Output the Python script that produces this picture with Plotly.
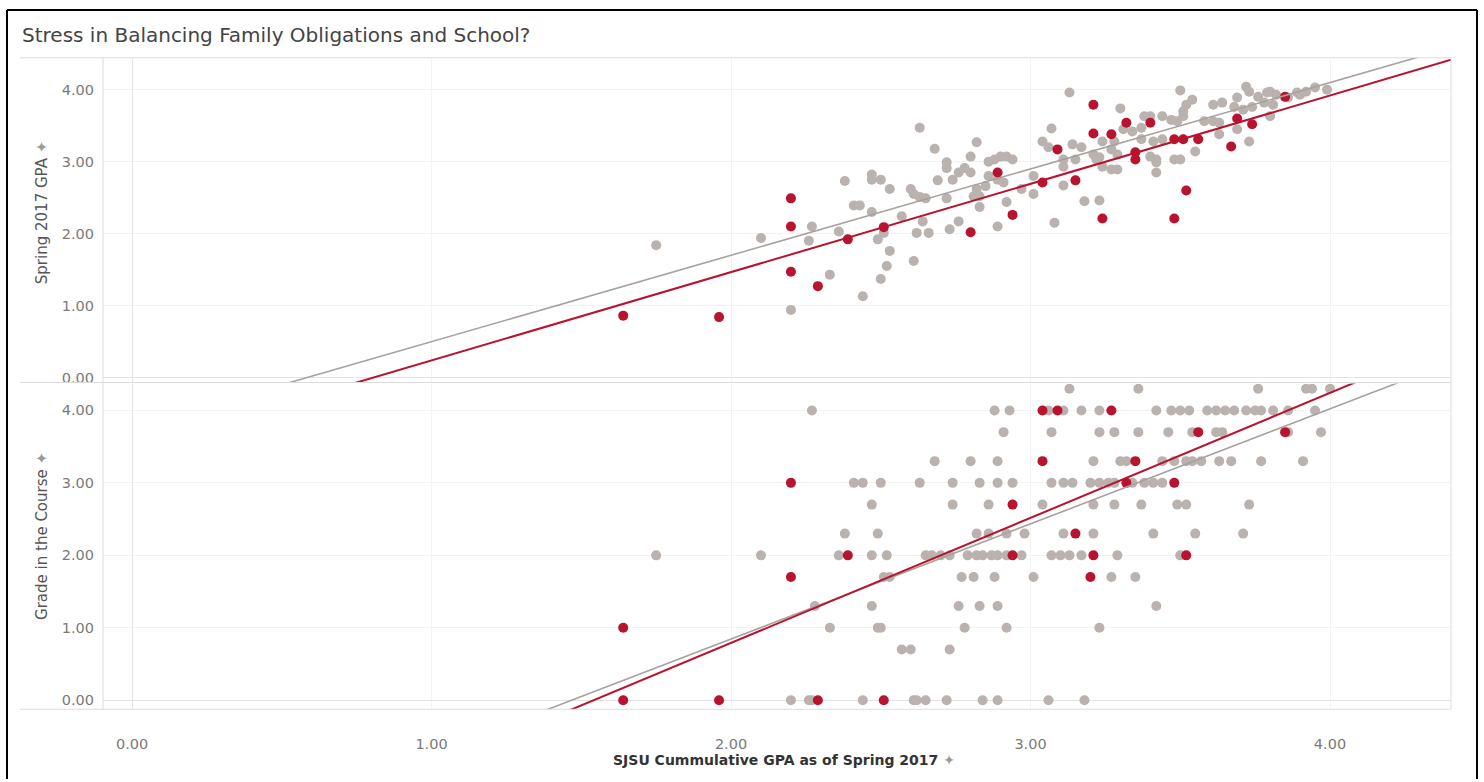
import plotly.graph_objects as go

W, H = 1484, 782

# ---- data -------------------------------------------------------------
# Upper pane: cumulative GPA vs Spring 2017 GPA
top_no = [
    (1.75, 1.84), (2.10, 1.94), (2.20, 0.94), (2.27, 2.10), (2.26, 1.90), (2.33, 1.43),
    (2.36, 2.03), (2.38, 2.73), (2.41, 2.39), (2.43, 2.39), (2.44, 1.13), (2.47, 2.82),
    (2.47, 2.75), (2.50, 2.75), (2.47, 2.30), (2.49, 1.92), (2.51, 2.01), (2.50, 1.37),
    (2.52, 1.55), (2.53, 1.76), (2.53, 2.62), (2.57, 2.24), (2.60, 2.62), (2.61, 2.55),
    (2.63, 2.51), (2.65, 2.49), (2.61, 1.62), (2.62, 2.01), (2.66, 2.01), (2.63, 3.47),
    (2.64, 2.17), (2.68, 3.18), (2.69, 2.74), (2.72, 2.99), (2.72, 2.91), (2.72, 2.49),
    (2.73, 2.06), (2.74, 2.75), (2.76, 2.17), (2.76, 2.85), (2.78, 2.91), (2.80, 2.85),
    (2.80, 3.07), (2.82, 3.27), (2.82, 2.62), (2.83, 2.52), (2.83, 2.37), (2.86, 3.00),
    (2.88, 3.03), (2.90, 3.07), (2.92, 3.07), (2.94, 3.03), (2.86, 2.80), (2.89, 2.75),
    (2.91, 2.71), (2.85, 2.66), (2.81, 2.52), (2.89, 2.10), (2.92, 2.44), (2.97, 2.62),
    (3.01, 2.55), (3.01, 2.80), (3.04, 3.28), (3.06, 3.20), (3.07, 3.46), (3.08, 2.15),
    (3.11, 3.03), (3.11, 2.93), (3.11, 2.67), (3.13, 3.96), (3.14, 3.24), (3.17, 3.20),
    (3.15, 3.03), (3.18, 2.45), (3.21, 3.10), (3.23, 3.06), (3.23, 2.46), (3.30, 3.74),
    (3.38, 3.63), (3.40, 3.63), (3.44, 3.63), (3.31, 3.45), (3.34, 3.42), (3.37, 3.47),
    (3.28, 3.28), (3.24, 3.28), (3.27, 3.17), (3.29, 3.10), (3.37, 3.31), (3.41, 3.28),
    (3.44, 3.31), (3.22, 3.03), (3.24, 2.93), (3.27, 2.89), (3.29, 2.89), (3.40, 3.07),
    (3.42, 2.99), (3.42, 2.85), (3.50, 3.99), (3.54, 3.86), (3.52, 3.79), (3.47, 3.58),
    (3.51, 3.70), (3.51, 3.63), (3.49, 3.56), (3.58, 3.56), (3.61, 3.56), (3.63, 3.54),
    (3.61, 3.79), (3.64, 3.82), (3.69, 3.89), (3.72, 4.04), (3.73, 3.97), (3.76, 3.90),
    (3.80, 3.97), (3.82, 3.93), (3.68, 3.76), (3.71, 3.72), (3.74, 3.76), (3.78, 3.82),
    (3.81, 3.79), (3.89, 3.96), (3.92, 3.97), (3.95, 4.03), (3.99, 4.00), (3.63, 3.38),
    (3.69, 3.45), (3.73, 3.28), (3.55, 3.14), (3.48, 3.03), (3.50, 3.03), (3.42, 3.03),
    (3.80, 3.63), (3.79, 3.96), (3.86, 3.89), (3.90, 3.93),
]
top_yes = [
    (1.64, 0.86), (1.96, 0.84), (2.20, 2.49), (2.20, 2.10), (2.20, 1.47), (2.29, 1.27),
    (2.39, 1.92), (2.51, 2.09), (2.80, 2.02), (2.89, 2.85), (2.94, 2.26), (3.04, 2.71),
    (3.09, 3.17), (3.15, 2.74), (3.21, 3.79), (3.21, 3.39), (3.24, 2.21), (3.27, 3.38),
    (3.32, 3.54), (3.35, 3.13), (3.35, 3.03), (3.40, 3.54), (3.48, 3.31), (3.51, 3.31),
    (3.56, 3.31), (3.48, 2.21), (3.52, 2.60), (3.67, 3.21), (3.69, 3.60), (3.74, 3.52),
    (3.85, 3.90),
]

# Lower pane: cumulative GPA of students at each course grade
bottom_no_by_grade = {
    4.3: [3.13, 3.36, 3.76, 3.92, 3.94, 4.00],
    4.0: [2.27, 2.88, 2.93, 3.06, 3.11, 3.17, 3.23, 3.42, 3.47, 3.50, 3.53, 3.59, 3.62,
          3.65, 3.68, 3.72, 3.75, 3.77, 3.81, 3.86, 3.95],
    3.7: [2.91, 3.07, 3.23, 3.28, 3.36, 3.46, 3.54, 3.62, 3.64, 3.86, 3.97],
    3.3: [2.68, 2.80, 2.89, 3.21, 3.30, 3.32, 3.44, 3.48, 3.52, 3.54, 3.57, 3.63, 3.67,
          3.77, 3.91],
    3.0: [2.41, 2.44, 2.50, 2.63, 2.74, 2.83, 2.89, 2.94, 3.07, 3.11, 3.14, 3.20, 3.23,
          3.26, 3.28, 3.34, 3.38, 3.41, 3.44],
    2.7: [2.47, 2.74, 2.86, 3.04, 3.21, 3.28, 3.37, 3.49, 3.52, 3.73],
    2.3: [2.38, 2.49, 2.82, 2.86, 2.92, 2.98, 3.11, 3.21, 3.41, 3.55, 3.71],
    2.0: [1.75, 2.10, 2.36, 2.47, 2.52, 2.65, 2.67, 2.70, 2.73, 2.79, 2.82, 2.84, 2.87,
          2.89, 2.92, 2.97, 3.07, 3.10, 3.13, 3.17, 3.29, 3.50],
    1.7: [2.51, 2.53, 2.77, 2.81, 2.88, 3.01, 3.27, 3.35],
    1.3: [2.28, 2.47, 2.76, 2.83, 2.89, 3.42],
    1.0: [2.33, 2.49, 2.50, 2.78, 2.92, 3.23],
    0.7: [2.57, 2.60, 2.73],
    0.0: [2.20, 2.26, 2.27, 2.44, 2.61, 2.62, 2.65, 2.72, 2.84, 2.89, 3.06, 3.18],
}
bottom_yes = [
    (1.64, 1.0), (1.64, 0.0), (1.96, 0.0), (2.20, 3.0), (2.20, 1.7), (2.29, 0.0),
    (2.39, 2.0), (2.51, 0.0), (2.94, 2.7), (2.94, 2.0), (3.04, 4.0), (3.04, 3.3),
    (3.09, 4.0), (3.15, 2.3), (3.21, 2.0), (3.20, 1.7), (3.27, 4.0), (3.56, 3.7),
    (3.85, 3.7), (3.35, 3.3), (3.32, 3.0), (3.48, 3.0), (3.52, 2.0),
]

# Linear trend lines (slope, intercept) for each group and pane
trend_top_no = (1.200, -0.701)
trend_top_yes = (1.227, -0.989)
trend_bottom_no = (1.588, -2.330)
trend_bottom_yes = (1.725, -2.658)

x_ticks = [0, 1, 2, 3, 4]
y_ticks = [0, 1, 2, 3, 4]

# ---- style ------------------------------------------------------------
GRAY = "#BAB2AE"
GRAY_LINE = "#A9A19D"
RED = "#B8132F"
FONT = "DejaVu Sans"

x_range = [-0.097, 4.404]
top_range = [-0.069, 4.443]
bottom_range = [-0.124, 4.371]

def px_x(p):
    return p / W

def px_y(p):
    return 1 - p / H

fig = go.Figure()

def add_points(xs, ys, color, xa, ya):
    fig.add_trace(go.Scatter(
        x=xs, y=ys, mode="markers", xaxis=xa, yaxis=ya, hoverinfo="skip",
        marker=dict(size=10, color=color, line=dict(width=0)), showlegend=False))

def add_trend(coef, color, width, xa, ya):
    m, b = coef
    xs = [x_range[0], x_range[1]]
    fig.add_trace(go.Scatter(
        x=xs, y=[m * v + b for v in xs], mode="lines", xaxis=xa, yaxis=ya,
        hoverinfo="skip", line=dict(color=color, width=width), showlegend=False))

# upper pane
add_points([p[0] for p in top_no], [p[1] for p in top_no], GRAY, "x2", "y")
add_points([p[0] for p in top_yes], [p[1] for p in top_yes], RED, "x2", "y")
add_trend(trend_top_no, GRAY_LINE, 1.6, "x2", "y")
add_trend(trend_top_yes, RED, 2.0, "x2", "y")

# lower pane
bx, by = [], []
for grade, xs in bottom_no_by_grade.items():
    bx.extend(xs)
    by.extend([grade] * len(xs))
add_points(bx, by, GRAY, "x", "y2")
add_points([p[0] for p in bottom_yes], [p[1] for p in bottom_yes], RED, "x", "y2")
add_trend(trend_bottom_no, GRAY_LINE, 1.6, "x", "y2")
add_trend(trend_bottom_yes, RED, 2.0, "x", "y2")

dom_x = [px_x(103), px_x(1451)]
grid = dict(showgrid=True, gridcolor="#F3F3F3", gridwidth=1,
            zeroline=True, zerolinecolor="#E4E4E4", zerolinewidth=1,
            showline=False, ticks="")
tickfont = dict(family=FONT, size=14.5, color="#7A7A7A")

fig.update_layout(
    width=W, height=H,
    margin=dict(l=0, r=0, t=0, b=0),
    paper_bgcolor="white", plot_bgcolor="white",
    xaxis=dict(domain=dom_x, anchor="y2", range=x_range, tickvals=x_ticks,
               tickformat=".2f", tickfont=tickfont, ticklabelstandoff=24, **grid),
    xaxis2=dict(domain=dom_x, anchor="y", range=x_range, matches="x",
                tickvals=x_ticks, showticklabels=False, **grid),
    yaxis=dict(domain=[px_y(384), px_y(58)], anchor="x2", range=top_range,
               tickvals=y_ticks, tickformat=".2f", tickfont=tickfont,
               ticklabelstandoff=8, **grid),
    yaxis2=dict(domain=[px_y(712), px_y(385)], anchor="x", range=bottom_range,
                tickvals=y_ticks, tickformat=".2f", tickfont=tickfont,
                ticklabelstandoff=8, **grid),
)

# pane borders
line_c = "#DCDCDC"
shapes = []
for yy in (58, 384, 712):
    shapes.append(dict(type="line", xref="paper", yref="paper",
                       x0=px_x(20), x1=px_x(1451), y0=px_y(yy), y1=px_y(yy),
                       line=dict(color=line_c, width=1)))
for xx in (103, 1451):
    shapes.append(dict(type="line", xref="paper", yref="paper",
                       x0=px_x(xx), x1=px_x(xx), y0=px_y(58), y1=px_y(712),
                       line=dict(color=line_c, width=1)))
# outer frame
frame = dict(color="black", width=2)
shapes.append(dict(type="line", xref="paper", yref="paper", x0=px_x(7), x1=px_x(1477),
                   y0=px_y(10), y1=px_y(10), line=frame))
shapes.append(dict(type="line", xref="paper", yref="paper", x0=px_x(7), x1=px_x(7),
                   y0=px_y(10), y1=0, line=frame))
shapes.append(dict(type="line", xref="paper", yref="paper", x0=px_x(1477), x1=px_x(1477),
                   y0=px_y(10), y1=0, line=frame))
fig.update_layout(shapes=shapes)

pin = "<span style='color:#9A9A9A'> ✦</span>"
annotations = [
    dict(text="Stress in Balancing Family Obligations and School?",
         x=px_x(20), y=px_y(35), xref="paper", yref="paper",
         xanchor="left", yanchor="middle", showarrow=False,
         font=dict(family=FONT, size=20, color="#444444")),
    dict(text="Spring 2017 GPA" + pin, x=px_x(42), y=px_y(214),
         xref="paper", yref="paper", textangle=-90, showarrow=False,
         xanchor="center", yanchor="middle",
         font=dict(family=FONT, size=15, color="#555555")),
    dict(text="Grade in the Course" + pin, x=px_x(42), y=px_y(538),
         xref="paper", yref="paper", textangle=-90, showarrow=False,
         xanchor="center", yanchor="middle",
         font=dict(family=FONT, size=15, color="#555555")),
    dict(text="SJSU Cummulative GPA as of Spring 2017" + pin, x=px_x(784), y=px_y(763),
         xref="paper", yref="paper", showarrow=False,
         xanchor="center", yanchor="middle",
         font=dict(family=FONT, size=14, color="#333333", weight="bold")),
]
fig.update_layout(annotations=annotations)

fig.write_html("out.html")
